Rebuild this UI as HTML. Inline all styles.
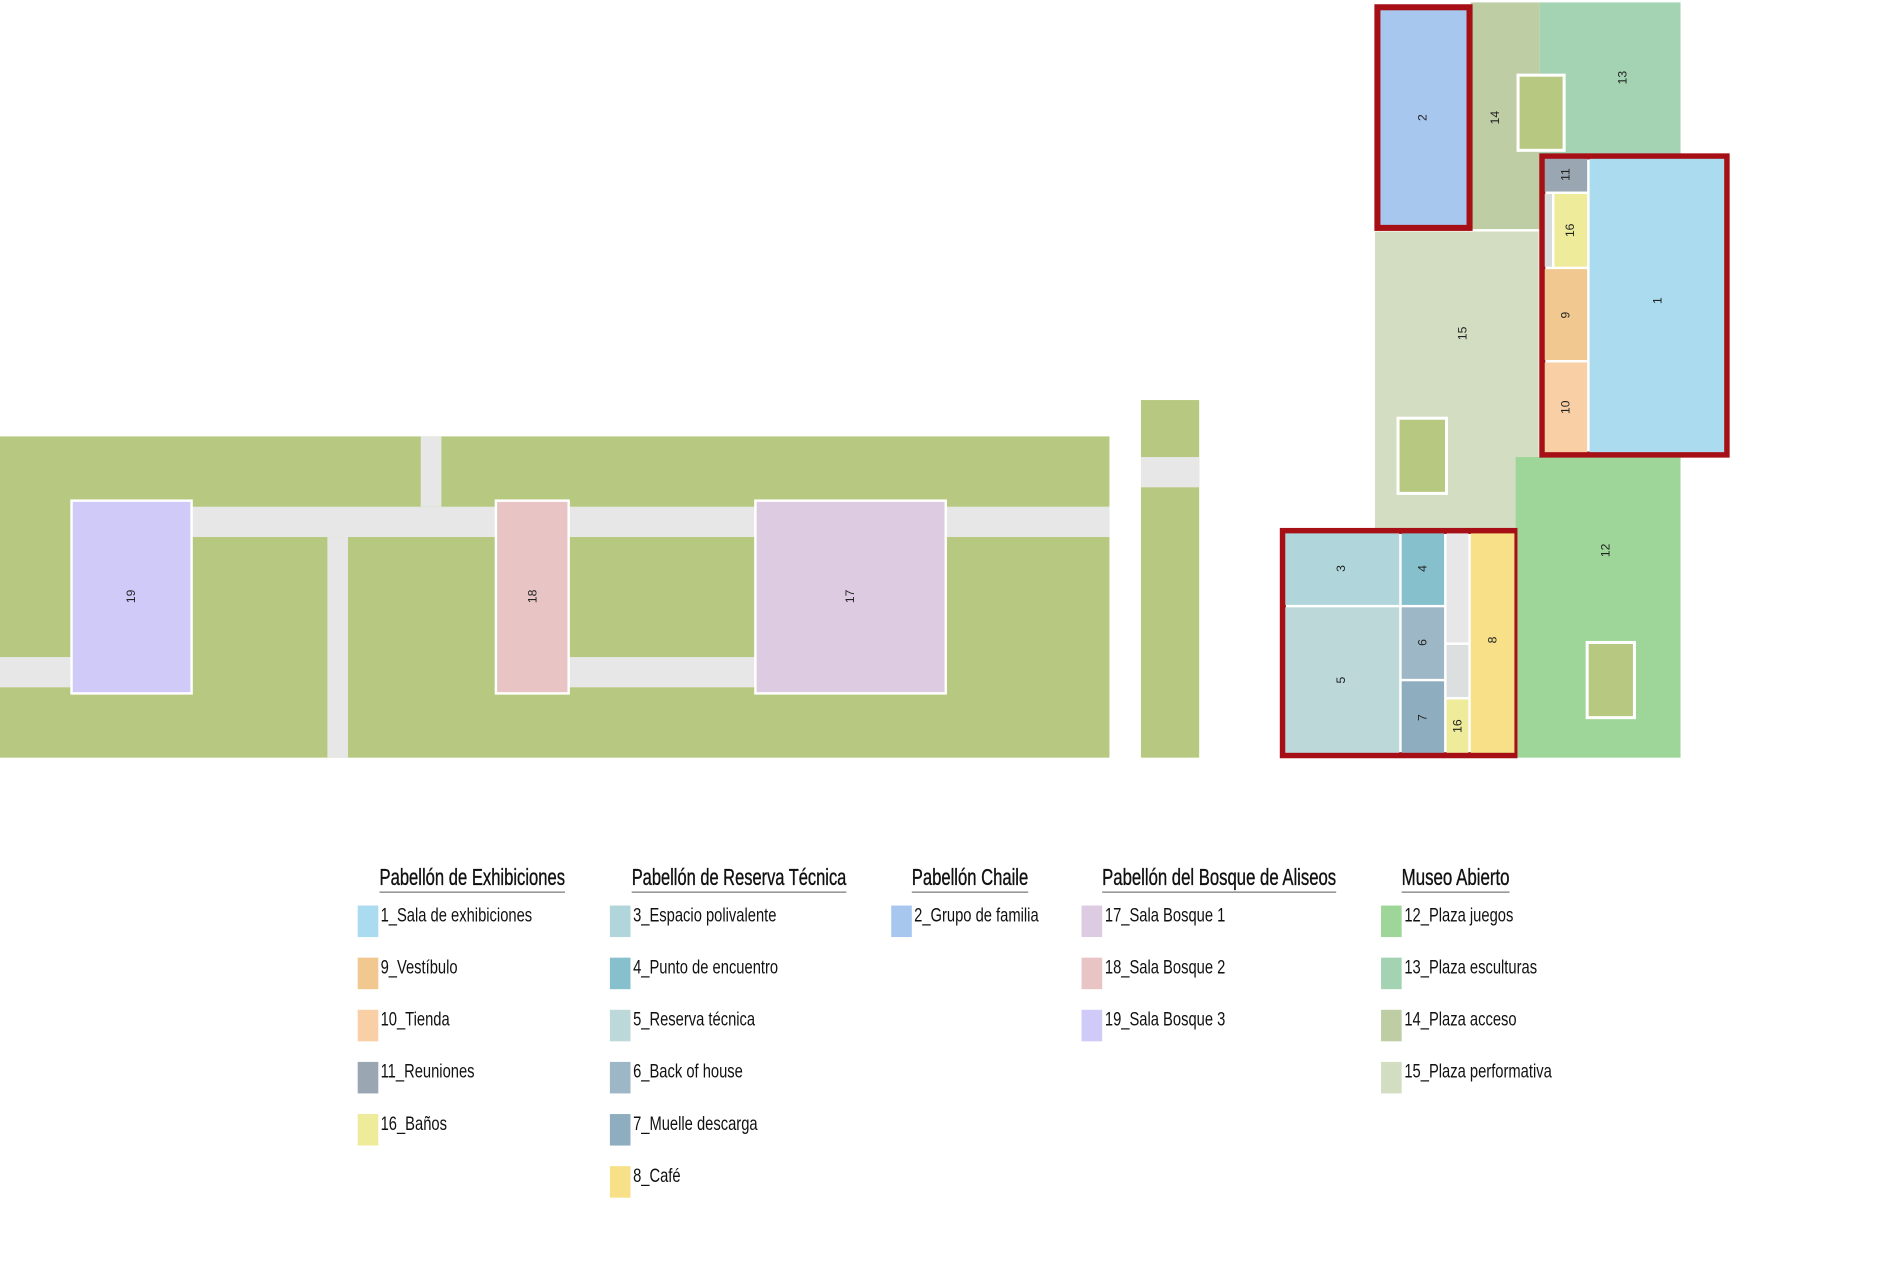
<!DOCTYPE html>
<html><head><meta charset="utf-8"><style>
html,body{margin:0;padding:0;background:#fff;}
svg{display:block}
.n{font-family:"Liberation Sans",sans-serif;font-size:10px;fill:#222;text-anchor:middle;dominant-baseline:central}
.h{font-family:"Liberation Sans Narrow","Liberation Sans",sans-serif;font-size:19px;fill:#111;stroke:#111;stroke-width:0.3}
.t{font-family:"Liberation Sans Narrow","Liberation Sans",sans-serif;font-size:16px;fill:#111}
</style></head><body>
<svg width="1900" height="1268" viewBox="0 0 1567 1046" preserveAspectRatio="none" xmlns="http://www.w3.org/2000/svg">
<rect x="0" y="360" width="915" height="265" fill="#b7c980"/>
<g fill="#e6e7e6">
<rect x="347" y="360" width="17" height="58"/>
<rect x="158" y="418" width="757" height="25"/>
<rect x="270" y="443" width="17" height="182"/>
<rect x="0" y="542" width="59" height="25"/>
<rect x="469" y="542" width="154" height="25"/>
</g>
<g stroke="#fff" stroke-width="2">
<rect x="59" y="413" width="99" height="159" fill="#d0caf8"/>
<rect x="409" y="413" width="60" height="159" fill="#e8c4c5"/>
<rect x="623" y="413" width="157" height="159" fill="#dccbe1"/>
</g>
<text class="n" transform="translate(108,492) rotate(-90)">19</text>
<text class="n" transform="translate(439,492) rotate(-90)">18</text>
<text class="n" transform="translate(701,492) rotate(-90)">17</text>
<rect x="941" y="330" width="48" height="295" fill="#b7c980"/>
<rect x="941" y="377" width="48" height="25" fill="#e6e7e6"/>
<rect x="1213" y="2" width="57" height="188" fill="#bfcda5"/>
<rect x="1270" y="2" width="116" height="125" fill="#a3d3b3"/>
<rect x="1252" y="62" width="38" height="62" fill="#b7c980" stroke="#fff" stroke-width="2.5"/>
<rect x="1133" y="190" width="137" height="247" fill="#d3ddc2" stroke="#fff" stroke-width="2"/>
<rect x="1153" y="345" width="40" height="62" fill="#b7c980" stroke="#fff" stroke-width="2.5"/>
<rect x="1250" y="377" width="136" height="248" fill="#9ed69a"/>
<rect x="1309" y="530" width="39" height="62" fill="#b7c980" stroke="#fff" stroke-width="2.5"/>
<rect x="1136" y="6" width="76" height="182" fill="#a8c7ee" stroke="#a50f15" stroke-width="5"/>
<rect x="1272" y="129" width="152" height="246" fill="#fff" stroke="#a50f15" stroke-width="5"/>
<rect x="1274" y="131" width="35" height="27" fill="#9aa7b3"/>
<rect x="1274" y="160" width="6" height="60" fill="#d6dcdc"/>
<rect x="1282" y="160" width="27" height="60" fill="#eeeb9b"/>
<rect x="1274" y="222" width="35" height="75" fill="#f0c890"/>
<rect x="1274" y="299" width="35" height="74" fill="#f9cfa5"/>
<rect x="1311" y="131" width="111" height="242" fill="#aadbef"/>
<rect x="1058" y="438" width="191" height="185" fill="#fff" stroke="#a50f15" stroke-width="5"/>
<rect x="1060" y="440" width="94" height="59" fill="#b0d6dc"/>
<rect x="1156" y="440" width="35" height="59" fill="#86c0cc"/>
<rect x="1060" y="501" width="94" height="120" fill="#bcd8d9"/>
<rect x="1156" y="501" width="35" height="59" fill="#9db7c6"/>
<rect x="1156" y="562" width="35" height="59" fill="#8eaec0"/>
<rect x="1193" y="440" width="18" height="90" fill="#e6e7e6"/>
<rect x="1193" y="532" width="18" height="43" fill="#dcdfe0"/>
<rect x="1193" y="577" width="18" height="44" fill="#eeeb9b"/>
<rect x="1213" y="440" width="36" height="181" fill="#f7e087"/>
<text class="n" transform="translate(1173,97) rotate(-90)">2</text>
<text class="n" transform="translate(1233,97) rotate(-90)">14</text>
<text class="n" transform="translate(1338,64) rotate(-90)">13</text>
<text class="n" transform="translate(1206,275) rotate(-90)">15</text>
<text class="n" transform="translate(1291,144) rotate(-90)">11</text>
<text class="n" transform="translate(1295,190) rotate(-90)">16</text>
<text class="n" transform="translate(1291,260) rotate(-90)">9</text>
<text class="n" transform="translate(1291,336) rotate(-90)">10</text>
<text class="n" transform="translate(1367,248) rotate(-90)">1</text>
<text class="n" transform="translate(1324,454) rotate(-90)">12</text>
<text class="n" transform="translate(1106,469) rotate(-90)">3</text>
<text class="n" transform="translate(1173,469) rotate(-90)">4</text>
<text class="n" transform="translate(1106,561) rotate(-90)">5</text>
<text class="n" transform="translate(1173,530) rotate(-90)">6</text>
<text class="n" transform="translate(1173,592) rotate(-90)">7</text>
<text class="n" transform="translate(1202,599) rotate(-90)">16</text>
<text class="n" transform="translate(1231,528) rotate(-90)">8</text>
<g class="h">
<text x="313" y="730" textLength="153" lengthAdjust="spacingAndGlyphs">Pabellón de Exhibiciones</text>
<text x="521" y="730" textLength="177" lengthAdjust="spacingAndGlyphs">Pabellón de Reserva Técnica</text>
<text x="752" y="730" textLength="96" lengthAdjust="spacingAndGlyphs">Pabellón Chaile</text>
<text x="909" y="730" textLength="193" lengthAdjust="spacingAndGlyphs">Pabellón del Bosque de Aliseos</text>
<text x="1156" y="730" textLength="89" lengthAdjust="spacingAndGlyphs">Museo Abierto</text>
</g>
<g stroke="#999" stroke-width="1.3">
<line x1="313" y1="736" x2="466" y2="736"/>
<line x1="521" y1="736" x2="698" y2="736"/>
<line x1="752" y1="736" x2="848" y2="736"/>
<line x1="909" y1="736" x2="1102" y2="736"/>
<line x1="1156" y1="736" x2="1245" y2="736"/>
</g>
<g>
<rect x="295" y="747" width="17" height="26" fill="#aadbef"/>
<rect x="295" y="790" width="17" height="26" fill="#f0c890"/>
<rect x="295" y="833" width="17" height="26" fill="#f9cfa5"/>
<rect x="295" y="876" width="17" height="26" fill="#9aa7b3"/>
<rect x="295" y="919" width="17" height="26" fill="#eeeb9b"/>
<rect x="503" y="747" width="17" height="26" fill="#b0d6dc"/>
<rect x="503" y="790" width="17" height="26" fill="#86c0cc"/>
<rect x="503" y="833" width="17" height="26" fill="#bcd8d9"/>
<rect x="503" y="876" width="17" height="26" fill="#9db7c6"/>
<rect x="503" y="919" width="17" height="26" fill="#8eaec0"/>
<rect x="503" y="962" width="17" height="26" fill="#f7e087"/>
<rect x="735" y="747" width="17" height="26" fill="#a8c7ee"/>
<rect x="892" y="747" width="17" height="26" fill="#dccbe1"/>
<rect x="892" y="790" width="17" height="26" fill="#e8c4c5"/>
<rect x="892" y="833" width="17" height="26" fill="#d0caf8"/>
<rect x="1139" y="747" width="17" height="26" fill="#9ed69a"/>
<rect x="1139" y="790" width="17" height="26" fill="#a3d3b3"/>
<rect x="1139" y="833" width="17" height="26" fill="#bfcda5"/>
<rect x="1139" y="876" width="17" height="26" fill="#d3ddc2"/>
</g>
<g class="t" transform="scale(0.76,1)">
<text x="413" y="760">1_Sala de exhibiciones</text>
<text x="413" y="803">9_Vestíbulo</text>
<text x="413" y="846">10_Tienda</text>
<text x="413" y="889">11_Reuniones</text>
<text x="413" y="932">16_Baños</text>
<text x="687" y="760">3_Espacio polivalente</text>
<text x="687" y="803">4_Punto de encuentro</text>
<text x="687" y="846">5_Reserva técnica</text>
<text x="687" y="889">6_Back of house</text>
<text x="687" y="932">7_Muelle descarga</text>
<text x="687" y="975">8_Café</text>
<text x="992" y="760">2_Grupo de familia</text>
<text x="1199" y="760">17_Sala Bosque 1</text>
<text x="1199" y="803">18_Sala Bosque 2</text>
<text x="1199" y="846">19_Sala Bosque 3</text>
<text x="1524" y="760">12_Plaza juegos</text>
<text x="1524" y="803">13_Plaza esculturas</text>
<text x="1524" y="846">14_Plaza acceso</text>
<text x="1524" y="889">15_Plaza performativa</text>
</g>
</svg>
</body></html>
